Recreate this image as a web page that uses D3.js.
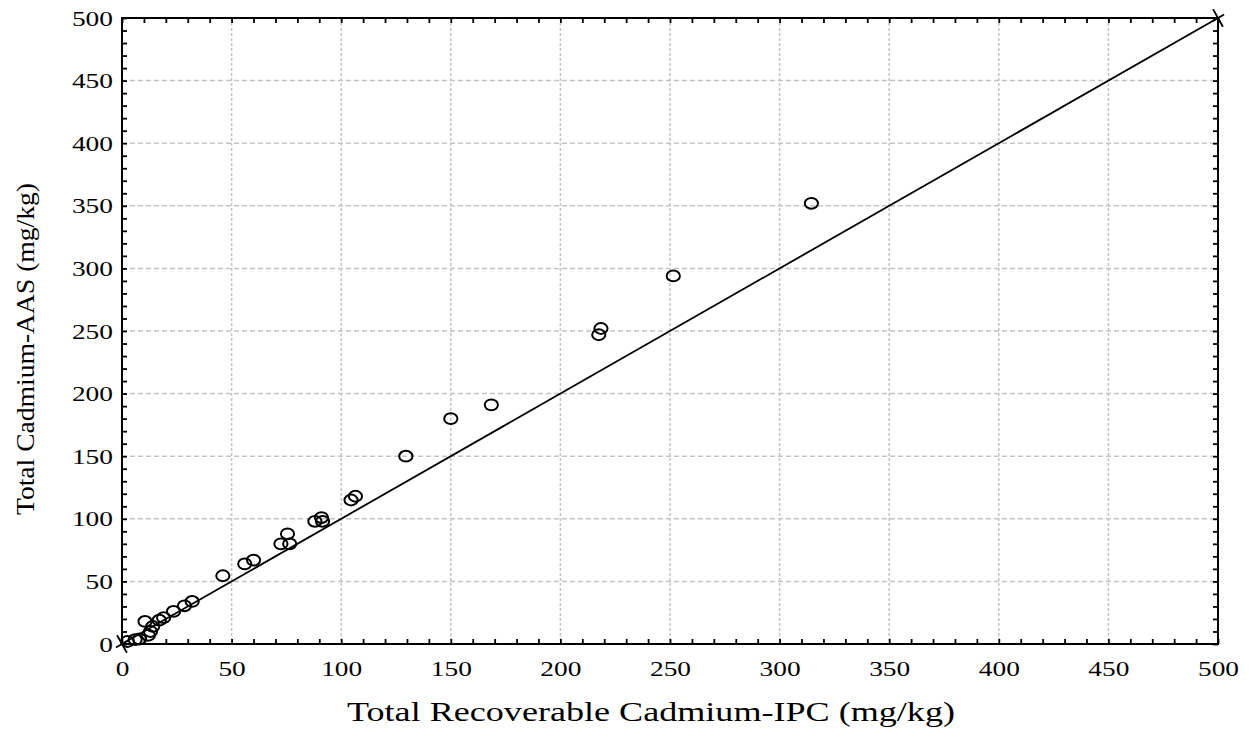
<!DOCTYPE html>
<html><head><meta charset="utf-8">
<script src="https://cdn.jsdelivr.net/npm/d3@7"></script>
<style>body{margin:0;background:#fff}svg{display:block}</style>
</head><body><svg id="c" width="1255" height="735"></svg>
<script>
const xValues = [2.5, 6, 8, 12, 13, 14, 10.5, 17, 19, 23.5, 28.5, 32, 46, 56, 60, 72.5, 76.5, 75.5, 88, 91, 91.5, 104.5, 106.5, 129.5, 150, 168.5, 217.5, 218.5, 251.5, 314.5];
const yValues = [2, 3.5, 4, 7, 10, 14, 18, 19, 21, 26, 30.5, 34, 54.5, 64, 67, 80, 80, 88, 98, 101, 98, 115, 118, 150, 180, 191, 247, 252, 294, 352];
const tickValues = [0, 50, 100, 150, 200, 250, 300, 350, 400, 450, 500];
const lineEnds = [0, 500];
const xTitle = "Total Recoverable Cadmium-IPC (mg/kg)";
const yTitle = "Total Cadmium-AAS (mg/kg)";

const svg = d3.select("#c");
const L = 122, R = 1218, T = 18, B = 644;
const x = d3.scaleLinear().domain([0, 500]).range([L, R]);
const y = d3.scaleLinear().domain([0, 500]).range([B, T]);
const font = "Liberation Serif, Times New Roman, serif";

// gridlines
svg.append("g").selectAll("line").data(tickValues.slice(1, -1)).join("line")
  .attr("x1", d => x(d)).attr("x2", d => x(d)).attr("y1", T).attr("y2", B)
  .attr("stroke", "#c4c4c4").attr("stroke-width", 1.5).attr("stroke-dasharray", "3,2");
svg.append("g").selectAll("line").data(tickValues.slice(1, -1)).join("line")
  .attr("y1", d => y(d)).attr("y2", d => y(d)).attr("x1", L).attr("x2", R)
  .attr("stroke", "#c4c4c4").attr("stroke-width", 1.5).attr("stroke-dasharray", "5,3");

// axes with inward ticks
const minor = d3.range(0, 501, 10);
function axisBase(axisGen, tr) {
  const g = svg.append("g").attr("transform", tr).call(axisGen);
  g.select(".domain").remove();
  g.selectAll("line").attr("stroke", "#000").attr("stroke-width", 1.8);
  return g;
}
axisBase(d3.axisBottom(x).tickValues(minor).tickSize(-5).tickFormat(""), `translate(0,${B})`);
axisBase(d3.axisTop(x).tickValues(minor).tickSize(-5).tickFormat(""), `translate(0,${T})`);
axisBase(d3.axisLeft(y).tickValues(minor).tickSize(-5).tickFormat(""), `translate(${L},0)`);
axisBase(d3.axisRight(y).tickValues(minor).tickSize(-5).tickFormat(""), `translate(${R},0)`);

// tick labels (slightly widened like the source)
function styleLabels(g) {
  g.select(".domain").remove();
  g.attr("font-family", null).attr("font-size", null);
  g.selectAll("text")
    .style("font-family", font).style("font-size", "22px").attr("fill", "#000")
    .attr("textLength", function () { return this.textContent.length * 13.7; })
    .attr("lengthAdjust", "spacingAndGlyphs");
}
const gx = svg.append("g").attr("transform", `translate(0,${B})`)
  .call(d3.axisBottom(x).tickValues(tickValues).tickSize(0).tickPadding(16).tickFormat(d3.format("d")));
styleLabels(gx);
const gy = svg.append("g").attr("transform", `translate(${L},0)`)
  .call(d3.axisLeft(y).tickValues(tickValues).tickSize(0).tickPadding(9).tickFormat(d3.format("d")));
styleLabels(gy);

// frame
svg.append("rect").attr("x", L).attr("y", T).attr("width", R - L).attr("height", B - T)
  .attr("fill", "none").attr("stroke", "#000").attr("stroke-width", 2);

// identity line
svg.append("line").attr("x1", x(lineEnds[0])).attr("y1", y(lineEnds[0]))
  .attr("x2", x(lineEnds[1])).attr("y2", y(lineEnds[1]))
  .attr("stroke", "#000").attr("stroke-width", 1.8);
const ang = Math.atan2(y(lineEnds[1]) - y(lineEnds[0]), x(lineEnds[1]) - x(lineEnds[0]));
lineEnds.forEach(v => {
  const cx = x(v), cy = y(v);
  const px = -Math.sin(ang), py = Math.cos(ang);
  const ux = Math.cos(ang), uy = Math.sin(ang);
  svg.append("line").attr("x1", cx - px * 10).attr("y1", cy - py * 10)
    .attr("x2", cx + px * 10).attr("y2", cy + py * 10).attr("stroke", "#000").attr("stroke-width", 1.8);
  svg.append("line").attr("x1", cx - ux * 7).attr("y1", cy - uy * 7)
    .attr("x2", cx + ux * 7).attr("y2", cy + uy * 7).attr("stroke", "#000").attr("stroke-width", 1.8);
});

// points
svg.append("g").selectAll("ellipse").data(xValues.map((v, i) => [v, yValues[i]])).join("ellipse")
  .attr("cx", d => x(d[0])).attr("cy", d => y(d[1])).attr("rx", 6.6).attr("ry", 5.4)
  .attr("fill", "none").attr("stroke", "#000").attr("stroke-width", 2);

// titles
svg.append("text").attr("x", 651).attr("y", 721).attr("text-anchor", "middle")
  .style("font-family", font).style("font-size", "28px").attr("fill", "#000")
  .attr("textLength", 608).attr("lengthAdjust", "spacingAndGlyphs").text(xTitle);
svg.append("text").attr("transform", `translate(34,349) rotate(-90)`)
  .attr("text-anchor", "middle").style("font-family", font).style("font-size", "26px").attr("fill", "#000")
  .attr("textLength", 332).attr("lengthAdjust", "spacingAndGlyphs").text(yTitle);
</script></body></html>
